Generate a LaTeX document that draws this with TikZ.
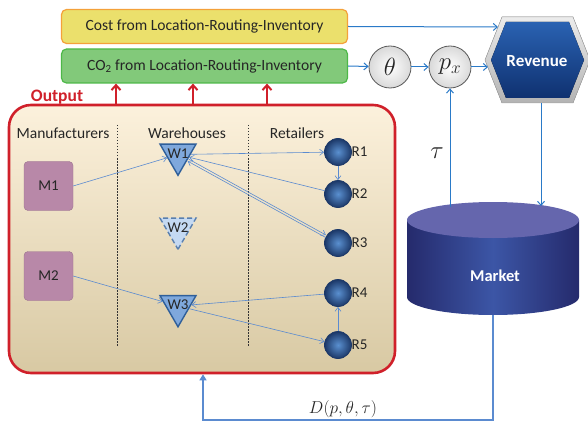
\documentclass[tikz,border=0pt]{standalone}
\usepackage{fontspec}
\setmainfont{Carlito}
\usetikzlibrary{arrows.meta,shapes.geometric,calc}
\definecolor{txt}{HTML}{262626}
\definecolor{costfill}{HTML}{EBE06C}
\definecolor{costdraw}{HTML}{F4A13A}
\definecolor{cofill}{HTML}{82C97A}
\definecolor{codraw}{HTML}{4DB848}
\definecolor{redc}{HTML}{D0202A}
\definecolor{boxtop}{HTML}{FCF1DC}
\definecolor{boxbot}{HTML}{D8C9A3}
\definecolor{topline}{HTML}{2A7AC8}
\definecolor{conline}{HTML}{5B8BD0}
\definecolor{mfill}{HTML}{B888A8}
\definecolor{wfill}{HTML}{7FA8DC}
\definecolor{wdraw}{HTML}{2F5F9A}
\definecolor{w2fill}{HTML}{C4D9F2}
\definecolor{rin}{HTML}{5A90D0}
\definecolor{rout}{HTML}{1C3868}
\definecolor{hexin1}{HTML}{2A62B2}
\definecolor{hexin2}{HTML}{0F3170}
\definecolor{cylside}{HTML}{252A6C}
\definecolor{cylmid}{HTML}{3C56A6}
\definecolor{cyltop}{HTML}{6566AD}
\begin{document}
\begin{tikzpicture}[x=1pt,y=-1pt,
  every node/.style={text=txt},
  costbox/.style={draw=costdraw, fill=costfill, line width=1.2pt, rounded corners=5pt,
    minimum width=286pt, minimum height=34pt, inner sep=0pt, font=\fontsize{15.6}{17}\selectfont},
  cobox/.style={costbox, draw=codraw, fill=cofill},
  mainbox/.style={draw=redc, line width=2.6pt, rounded corners=22pt, top color=boxtop, bottom color=boxbot,
    minimum width=386pt, minimum height=268pt, inner sep=0pt},
  redarr/.style={draw=redc, line width=2pt, -{Straight Barb[length=5pt,width=9pt,line width=2pt]}},
  toparr/.style={draw=topline, line width=1pt, -{Straight Barb[length=4pt,width=7pt]}},
  conn/.style={draw=conline, line width=0.6pt, -{Straight Barb[length=4pt,width=6pt]}},
  hdr/.style={font=\fontsize{15.5}{17}\selectfont, inner sep=0pt},
  lab/.style={font=\fontsize{15}{17}\selectfont, inner sep=0pt},
  mbox/.style={fill=mfill, draw=mfill!85!black, line width=0.4pt, rounded corners=4pt, minimum width=49pt, minimum height=49pt,
    font=\fontsize{15}{17}\selectfont, inner sep=0pt},
  whs/.style={regular polygon, regular polygon sides=3, shape border rotate=180, minimum size=41.6pt,
    inner sep=0pt, draw=wdraw, line width=1.4pt, fill=wfill},
  whsoff/.style={whs, fill=w2fill, draw=wdraw!80, dash pattern=on 5pt off 3pt},
  ret/.style={circle, minimum size=27pt, inner sep=0pt, draw=rout, line width=0.8pt, shading=radial,
    inner color=rin, outer color=rout},
  mcirc/.style={circle, minimum size=42pt, inner sep=0pt, draw=gray!70!black, line width=0.8pt, shading=radial,
    inner color=white, outer color=gray!30},
  whitebold/.style={text=white, font=\fontsize{17}{19}\selectfont\bfseries, inner sep=0pt}
]
\useasboundingbox (0,0) rectangle (588,422);

% top boxes
\node[costbox] (cost) at (204.5,26.5) {Cost from Location-Routing-Inventory};
\node[cobox] (co2) at (204.5,66) {CO\textsubscript{2} from Location-Routing-Inventory};

% main box
\node[mainbox] (out) at (202,239) {};
\node[text=redc, font=\fontsize{17.5}{19}\selectfont\bfseries, inner sep=0pt] (outlab) at (57,97) {Output};
\coordinate (o1) at (116,105);
\coordinate (o2) at (193,105);
\coordinate (o3) at (267,105);
\draw[redarr] (o1) -- (o1 |- co2.south);
\draw[redarr] (o2) -- (o2 |- co2.south);
\draw[redarr] (o3) -- (o3 |- co2.south);

% dividers and headers
\draw[gray!40!black, line width=0.5pt, dash pattern=on 1.5pt off 1.5pt] (117,125) -- (117,346);
\draw[gray!40!black, line width=0.5pt, dash pattern=on 1.5pt off 1.5pt] (248,125) -- (248,346);
\node[hdr] (hman) at (63,133) {Manufacturers};
\node[hdr] (hwh) at (187,133) {Warehouses};
\node[hdr] (hret) at (297,133) {Retailers};

% manufacturers
\node[mbox] (M1) at (48.5,186) {M1};
\node[mbox] (M2) at (48.5,276) {M2};

% warehouses
\node[whs] (W1) at (178,154.5) {};
\node[lab] (W1t) at ([yshift=1pt]W1.center) {W1};
\node[whsoff] (W2) at (178,228.5) {};
\node[lab] (W2t) at ([yshift=1pt]W2.center) {W2};
\node[whs] (W3) at (178,306) {};
\node[lab] (W3t) at ([yshift=1pt]W3.center) {W3};

% retailers
\node[ret] (R1) at (338,152) {};
\node[ret] (R2) at (338,194) {};
\node[ret] (R3) at (338,243) {};
\node[ret] (R4) at (338,293) {};
\node[ret] (R5) at (338,345) {};
\node[lab, anchor=west] (R1t) at ([xshift=-0.5pt]R1.east) {R1};
\node[lab, anchor=west] (R2t) at ([xshift=-0.5pt]R2.east) {R2};
\node[lab, anchor=west] (R3t) at ([xshift=-0.5pt]R3.east) {R3};
\node[lab, anchor=west] (R4t) at ([xshift=-0.5pt]R4.east) {R4};
\node[lab, anchor=west] (R5t) at ([xshift=-0.5pt]R5.east) {R5};

% internal connectors
\draw[conn] (M1.east) -- (W1);
\draw[conn] (W1) -- (R1);
\draw[conn] (R2) -- (W1);
\draw[conn, transform canvas={yshift=1.3pt}] (W1) -- (R3);
\draw[conn, transform canvas={yshift=-1.3pt}] (R3) -- (W1);
\draw[conn] (R1) -- (R2);
\draw[conn] (M2.east) -- (W3);
\draw[conn] (R4) -- (W3);
\draw[conn] (W3) -- (R5);
\draw[conn] (R5) -- (R4);

% theta and p_x
\node[mcirc] (th) at (390,67) {\fontsize{26}{28}\selectfont$\theta$};
\node[mcirc] (px) at (450,67) {\fontsize{26}{28}\selectfont$p_x$};

% revenue hexagon
\fill[top color=gray!15, bottom color=gray!60, draw=gray!70, line width=0.5pt]
  (485,60) -- (502,17) -- (573,17) -- (590,60) -- (573,103) -- (502,103) -- cycle;
\fill[top color=hexin1, bottom color=hexin2]
  (491,60) -- (506,22) -- (569,22) -- (584,60) -- (569,98) -- (506,98) -- cycle;
\node[whitebold] (rev) at (537,61) {Revenue};
\coordinate (revcost) at (498,27);
\coordinate (revpx) at (488,67);
\coordinate (revbot) at (541,103);

% market cylinder
\shade[left color=cylside, right color=cylside, middle color=cylmid]
  (407,220) -- (407,297) arc[start angle=180, end angle=360, x radius=86pt, y radius=18pt] -- (579,220) -- cycle;
\fill[cyltop] (493,220) ellipse[x radius=86pt, y radius=18pt];
\node[whitebold, font=\fontsize{16.5}{18}\selectfont\bfseries] (mkt) at (495,276) {Market};
\coordinate (mkrev) at (541,206);
\coordinate (mktau) at (450,207);
\coordinate (mkbot) at (493,315);
\coordinate (dcorner) at (203,420);

% top connectors
\draw[toparr] (cost.east) -- (revcost);
\draw[toparr] (co2.east) -- (th);
\draw[toparr] (th) -- (px);
\draw[toparr] (px) -- (revpx);
\draw[toparr] (mktau) -- (px.south);
\draw[toparr] (revbot) -- (mkrev);
\node[inner sep=0pt] (tau) at (437,153) {\fontsize{24}{26}\selectfont$\tau$};

% demand feedback
\draw[conn, line width=1.2pt, draw=conline, -{Triangle[length=6pt,width=7pt]}] (mkbot) |- (dcorner) -- (dcorner |- out.south);
\node[inner sep=0pt] (dlab) at (343,409) {\fontsize{18.5}{20}\selectfont$D(p,\theta,\tau)$};
\end{tikzpicture}
\end{document}
